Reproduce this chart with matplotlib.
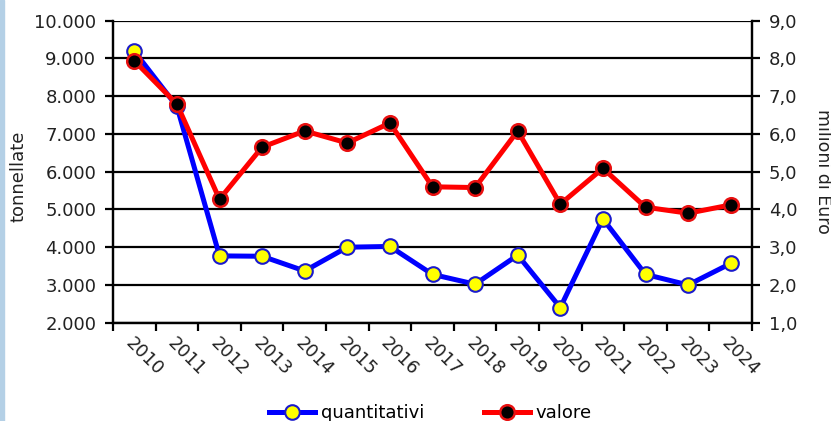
import matplotlib
matplotlib.use('Agg')
import matplotlib.pyplot as plt
from matplotlib.patches import Rectangle
from matplotlib.ticker import FuncFormatter, FixedLocator

# --- データ ---
anni = ['2010', '2011', '2012', '2013', '2014', '2015', '2016', '2017',
        '2018', '2019', '2020', '2021', '2022', '2023', '2024']
quantitativi = [9190, 7730, 3770, 3760, 3370, 4000, 4020, 3280,
                3020, 3790, 2400, 4750, 3280, 3000, 3570]
valore = [7.94, 6.79, 4.27, 5.65, 6.08, 5.76, 6.29, 4.60,
          4.58, 6.08, 4.14, 5.09, 4.06, 3.90, 4.12]

left_ticks = [2000, 3000, 4000, 5000, 6000, 7000, 8000, 9000, 10000]
right_ticks = [1, 2, 3, 4, 5, 6, 7, 8, 9]

plt.rcParams['font.family'] = 'DejaVu Sans'

fig = plt.figure(figsize=(8.31, 4.21), dpi=100)
fig.patch.set_facecolor('white')
ax = fig.add_axes([113 / 831, 1 - 322.7 / 421, (752 - 113) / 831, 302 / 421])
ax2 = ax.twinx()

x = list(range(len(anni)))

# 線
ax.plot(x, quantitativi, color='#0000ff', lw=3.6, marker='o', ms=10.5,
        mfc='#ffff00', mec='#1a1acc', mew=1.5, label='quantitativi', zorder=3)
ax2.plot(x, valore, color='#ff0000', lw=3.6, marker='o', ms=10.5,
         mfc='black', mec='#e81010', mew=1.8, label='valore', zorder=3)

# 軸
ax.set_xlim(-0.5, len(anni) - 0.5)
ax.set_ylim(2000, 10000)
ax2.set_ylim(1, 9)
ax.yaxis.set_major_locator(FixedLocator(left_ticks))
ax2.yaxis.set_major_locator(FixedLocator(right_ticks))
ax.yaxis.set_major_formatter(FuncFormatter(lambda v, p: f"{int(v):,}".replace(',', '.')))
ax2.yaxis.set_major_formatter(FuncFormatter(lambda v, p: f"{v:.1f}".replace('.', ',')))

ax.grid(axis='y', color='black', lw=1.6, zorder=0)
ax.set_axisbelow(True)

# x ticks: boundaries (major), labels on minor
ax.set_xticks([i - 0.5 for i in range(len(anni) + 1)])
ax.set_xticklabels([])
ax.set_xticks(x, minor=True)
ax.set_xticklabels(anni, minor=True, rotation=-45, ha='left', va='top',
                   rotation_mode='anchor', fontsize=13, color='#222222')
ax.tick_params(axis='x', which='major', direction='out', length=6, width=1.6)
ax.tick_params(axis='x', which='minor', length=0, pad=8)

ax.tick_params(axis='y', direction='out', length=6, width=1.6, labelsize=13,
               labelcolor='#222222', pad=6)
ax2.tick_params(axis='y', direction='out', length=6, width=1.6, labelsize=13,
                labelcolor='#222222', pad=6)

for a in (ax, ax2):
    a.spines['top'].set_visible(False)
    for s in ('left', 'right', 'bottom'):
        a.spines[s].set_linewidth(1.6)
ax.set_facecolor('none')

ax.set_ylabel('tonnellate', fontsize=13, color='#222222', va='center')
ax.yaxis.set_label_coords(-0.148, 0.486)
ax2.set_ylabel('milioni di Euro', fontsize=12.5, color='#222222', rotation=-90,
               va='center')
ax2.yaxis.set_label_coords(1.111, 0.50)

# 凡例
h1, l1 = ax.get_legend_handles_labels()
h2, l2 = ax2.get_legend_handles_labels()
fig.legend(h1 + h2, l1 + l2, loc='center', bbox_to_anchor=(0.518, 0.019),
           ncol=2, frameon=False, fontsize=13, handlelength=2.55,
           handletextpad=0.3, columnspacing=3.3)

# 左端の青い帯
fig.patches.append(Rectangle((0, 0), 4 / 831, 1, transform=fig.transFigure,
                             color='#b4d0e6', zorder=-1))

plt.savefig('out.png', dpi=100)
